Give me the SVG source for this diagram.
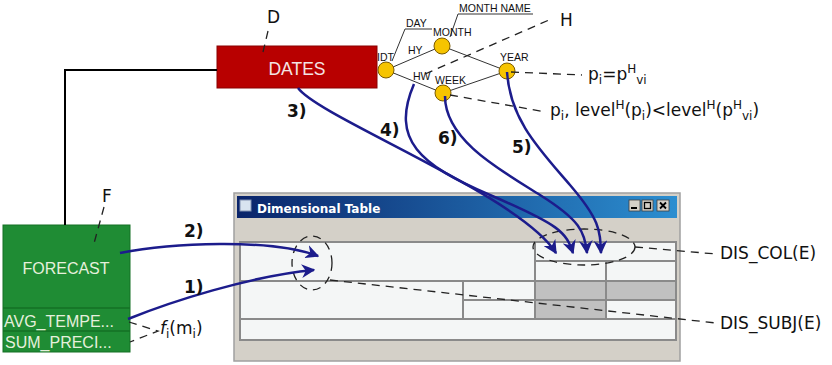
<svg xmlns="http://www.w3.org/2000/svg" width="832" height="365" viewBox="0 0 832 365">
<style>
.lbl{font-family:"DejaVu Sans","Liberation Sans",sans-serif;font-size:17px;fill:#111}
.small{font-family:"Liberation Sans",Arial,sans-serif;font-size:10.5px;fill:#111}
.num{font-family:"DejaVu Sans","Liberation Sans",sans-serif;font-size:17px;font-weight:bold;fill:#111}
.dash{stroke:#222;stroke-width:1.3;stroke-dasharray:8 6;fill:none}
.blue{stroke:#1c1c8c;stroke-width:2.5;fill:none}
.hier{stroke:#333;stroke-width:1;fill:none}
.lvl{fill:#f6c400;stroke:#7a5a00;stroke-width:1}
.cell{fill:#f4f6f6;stroke:#8a8a8a;stroke-width:2}
.gcell{fill:#c0c0c0;stroke:#8a8a8a;stroke-width:2}
</style>
<defs>
<marker id="ah" viewBox="0 0 10 10" refX="9" refY="5" markerWidth="5.5" markerHeight="5.5" orient="auto" markerUnits="strokeWidth">
<path d="M0,0 L10,5 L0,10 L3,5 z" fill="#1c1c8c"/>
</marker>
<linearGradient id="tb" x1="0" y1="0" x2="1" y2="0">
<stop offset="0" stop-color="#0a246a"/>
<stop offset="1" stop-color="#2c8ed0"/>
</linearGradient>
</defs>
<rect width="832" height="365" fill="#ffffff"/>

<g id="window">
<rect x="234" y="193" width="446" height="168" fill="#d4d0c8" stroke="#a0a0a0" stroke-width="1.5"/>
<rect x="237" y="196" width="440" height="22" fill="url(#tb)"/>
<rect x="240" y="200" width="11" height="11" fill="#d8e4f0" stroke="#8090b0" stroke-width="1"/>
<text x="257" y="213" style="font-family:'DejaVu Sans','Liberation Sans',sans-serif;font-size:12px;font-weight:bold;fill:#ffffff">Dimensional Table</text>
<g stroke="#404040" stroke-width="0.8">
<rect x="629" y="200" width="11" height="11" fill="#d4d0c8"/>
<rect x="642" y="200" width="11" height="11" fill="#d4d0c8"/>
<rect x="657" y="200" width="12" height="11" fill="#d4d0c8"/>
</g>
<rect x="631" y="207" width="6" height="2" fill="#000"/>
<rect x="644.5" y="202.5" width="6" height="6" fill="none" stroke="#000" stroke-width="1.3"/>
<path d="M660,202.5 L666,208.5 M666,202.5 L660,208.5" stroke="#000" stroke-width="1.8"/>
<rect x="240" y="242" width="295" height="39" class="cell"/>
<rect x="535" y="242" width="141" height="19" class="cell"/>
<rect x="535" y="261" width="71" height="20" class="cell"/>
<rect x="606" y="261" width="70" height="20" class="cell"/>
<rect x="240" y="281" width="223" height="38" class="cell"/>
<rect x="463" y="281" width="72" height="19" class="cell"/>
<rect x="463" y="300" width="72" height="19" class="cell"/>
<rect x="535" y="281" width="71" height="19" class="gcell"/>
<rect x="535" y="300" width="71" height="19" class="gcell"/>
<rect x="606" y="281" width="70" height="19" class="gcell"/>
<rect x="606" y="300" width="70" height="19" class="cell"/>
<rect x="240" y="319" width="436" height="21" class="cell"/>
</g>

<g id="dates">
<rect x="217" y="46" width="160" height="42" fill="#b80000" stroke="#8a0000" stroke-width="1"/>
<text x="297" y="75" text-anchor="middle" style="font-family:'Liberation Sans',Arial,sans-serif;font-size:17.5px;fill:#f4e4e4">DATES</text>
</g>

<g id="forecast">
<rect x="3" y="225" width="127" height="127" fill="#1f8c34" stroke="#157025" stroke-width="1"/>
<line x1="3" y1="308" x2="130" y2="308" stroke="#157025" stroke-width="1.5"/>
<line x1="3" y1="331" x2="130" y2="331" stroke="#157025" stroke-width="1.5"/>
<text x="66" y="274" text-anchor="middle" style="font-family:'Liberation Sans',Arial,sans-serif;font-size:16px;fill:#e6f0dc">FORECAST</text>
<text x="4" y="327" style="font-family:'Liberation Sans',Arial,sans-serif;font-size:16px;fill:#e6f0dc">AVG_TEMPE...</text>
<text x="5" y="348" style="font-family:'Liberation Sans',Arial,sans-serif;font-size:16px;fill:#e6f0dc">SUM_PRECI...</text>
</g>

<g id="hierarchy">
<path class="hier" d="M386,70 L442,46 L507,71 M386,70 L443,93 L507,71"/>
<path class="hier" d="M392,61 L405,29 L432,29"/>
<path class="hier" d="M450,37 L458,14 L533,14"/>
<g id="idt"><circle cx="386" cy="70" r="8" class="lvl"/><text x="377" y="61" class="small">IDT</text></g>
<g id="month"><circle cx="442" cy="46" r="8" class="lvl"/><text x="433" y="36" class="small">MONTH</text></g>
<g id="year"><circle cx="507" cy="71" r="8" class="lvl"/><text x="500" y="61" class="small">YEAR</text></g>
<g id="week"><circle cx="443" cy="93" r="8" class="lvl"/><text x="435" y="84" class="small">WEEK</text></g>
<text x="406" y="27" class="small">DAY</text>
<text x="459" y="12" class="small">MONTH NAME</text>
<text x="408" y="54" class="small">HY</text>
<text x="413" y="80" class="small">HW</text>
</g>

<g id="annotations">
<path class="dash" d="M268,31 L263,52"/>
<path class="dash" d="M104,207 L93,247"/>
<path class="dash" d="M425,74 L549,20"/>
<path class="dash" d="M511,72 L582,75"/>
<path class="dash" d="M450,95 L546,112"/>
<path class="dash" d="M129,322 L158,331 L130,342"/>
<ellipse cx="312" cy="263" rx="20" ry="27" class="dash"/>
<ellipse cx="584" cy="247" rx="51" ry="18" class="dash"/>
<path class="dash" d="M635,247 L716,254"/>
<path class="dash" d="M330,280 L716,323"/>
<text x="267" y="23" class="lbl">D</text>
<text x="102" y="202" class="lbl">F</text>
<text x="560" y="26" class="lbl">H</text>
<text x="588" y="80" class="lbl">p<tspan font-size="12" dy="4">i</tspan><tspan dy="-4">=p</tspan><tspan font-size="12" dy="-7">H</tspan><tspan font-size="12" dy="11">vi</tspan></text>
<text x="550" y="116" class="lbl">p<tspan font-size="12" dy="4">i</tspan><tspan dy="-4">, level</tspan><tspan font-size="12" dy="-7">H</tspan><tspan dy="7">(p</tspan><tspan font-size="12" dy="4">i</tspan><tspan dy="-4">)&lt;level</tspan><tspan font-size="12" dy="-7">H</tspan><tspan dy="7">(p</tspan><tspan font-size="12" dy="-7">H</tspan><tspan font-size="12" dy="11">vi</tspan><tspan dy="-4">)</tspan></text>
<text x="160" y="334" class="lbl"><tspan font-style="italic">f</tspan><tspan font-size="12" dy="4">i</tspan><tspan dy="-4">(m</tspan><tspan font-size="12" dy="4">i</tspan><tspan dy="-4">)</tspan></text>
<text x="720" y="259" class="lbl" font-size="17.5">DIS_COL(E)</text>
<text x="720" y="329" class="lbl" font-size="17.5">DIS_SUBJ(E)</text>
</g>

<g id="connectors">
<path d="M217,70 L65,70 L65,225" stroke="#000" stroke-width="2" fill="none"/>
<path class="blue" marker-end="url(#ah)" d="M128,319 C170,302 250,276 314,270"/>
<path class="blue" marker-end="url(#ah)" d="M120,253 C170,243 270,238 318,256"/>
<path class="blue" marker-end="url(#ah)" d="M298,88 C320,118 520,195 556,253"/>
<path class="blue" marker-end="url(#ah)" d="M414,84 C390,140 420,165 490,195 S566,232 573,253"/>
<path class="blue" marker-end="url(#ah)" d="M445,96 C445,140 500,170 540,195 S585,232 587,253"/>
<path class="blue" marker-end="url(#ah)" d="M507,72 C510,120 540,150 570,185 S600,230 601,253"/>
<text x="184" y="237" class="num">2)</text>
<text x="184" y="293" class="num">1)</text>
<text x="287" y="117" class="num">3)</text>
<text x="380" y="136" class="num">4)</text>
<text x="438" y="144" class="num">6)</text>
<text x="512" y="153" class="num">5)</text>
</g>
</svg>
